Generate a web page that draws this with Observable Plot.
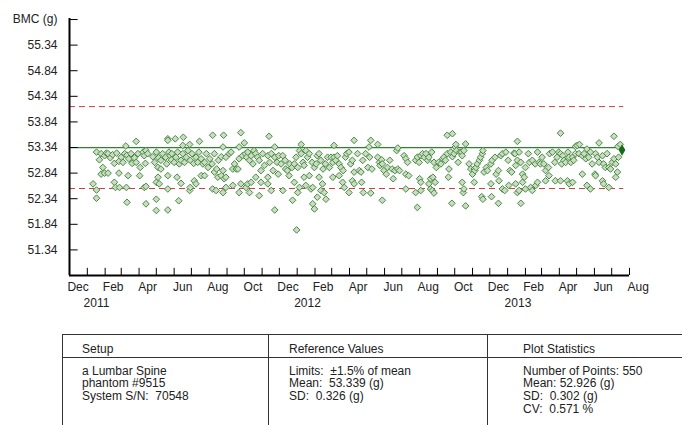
<!DOCTYPE html>
<html><head><meta charset="utf-8">
<script src="https://cdn.jsdelivr.net/npm/d3@7"></script>
<script src="https://cdn.jsdelivr.net/npm/@observablehq/plot@0.6"></script>
<style>
body{margin:0;background:#fff;font-family:"Liberation Sans",Arial,sans-serif;}
#wrap{position:relative;width:682px;height:425px;overflow:hidden;background:#fff;}
#chart{position:absolute;left:0;top:0;}
.hl{position:absolute;height:0;border-top:1px solid #333;}
.vl{position:absolute;width:0;border-left:1px solid #333;}
.tx{position:absolute;font-size:12px;color:#222;white-space:pre;line-height:12.7px;}
</style></head><body>
<div id="wrap"><div id="chart"></div></div>
<script>
// ---- data ----
const scans = [
["2011-01-11",52.63],["2011-01-17",53.25],["2011-01-17",52.51],["2011-01-17",52.35],["2011-01-22",53.10],
["2011-01-25",53.22],["2011-01-25",52.82],["2011-01-28",52.95],["2011-01-31",53.18],["2011-01-31",52.84],
["2011-02-03",53.23],["2011-02-06",53.22],["2011-02-06",52.84],["2011-02-10",53.14],["2011-02-14",53.20],
["2011-02-17",53.03],["2011-02-17",52.66],["2011-02-19",52.56],["2011-02-21",53.23],["2011-02-25",53.07],
["2011-02-25",52.84],["2011-02-26",52.56],["2011-03-01",53.15],["2011-03-04",53.05],["2011-03-07",53.22],
["2011-03-09",53.37],["2011-03-10",52.56],["2011-03-11",53.19],["2011-03-11",52.27],["2011-03-13",52.79],
["2011-03-14",53.12],["2011-03-18",53.22],["2011-03-20",53.03],["2011-03-24",53.14],["2011-03-27",53.05],
["2011-03-27",53.46],["2011-03-30",53.22],["2011-04-02",52.79],["2011-04-03",52.95],["2011-04-08",53.25],
["2011-04-10",53.18],["2011-04-10",52.56],["2011-04-12",53.03],["2011-04-13",53.28],["2011-04-13",52.58],
["2011-04-13",52.24],["2011-04-16",53.22],["2011-04-25",53.16],["2011-04-28",53.05],["2011-05-01",53.25],
["2011-05-01",52.66],["2011-05-01",52.33],["2011-05-01",52.11],["2011-05-04",52.95],["2011-05-04",52.76],
["2011-05-05",53.14],["2011-05-06",52.63],["2011-05-09",53.09],["2011-05-09",52.92],["2011-05-12",53.22],
["2011-05-17",53.15],["2011-05-19",53.02],["2011-05-21",53.51],["2011-05-21",53.48],["2011-05-21",52.53],
["2011-05-21",52.79],["2011-05-21",52.12],["2011-05-23",53.25],["2011-05-25",53.18],["2011-05-27",53.10],
["2011-05-28",53.22],["2011-06-01",53.05],["2011-06-03",53.51],["2011-06-04",53.15],["2011-06-06",52.76],
["2011-06-07",53.25],["2011-06-09",52.30],["2011-06-10",53.02],["2011-06-13",53.09],["2011-06-13",52.64],
["2011-06-16",53.22],["2011-06-16",53.38],["2011-06-17",53.54],["2011-06-19",53.05],["2011-06-22",53.15],
["2011-06-25",53.28],["2011-06-28",53.40],["2011-06-28",52.50],["2011-06-29",53.09],["2011-06-29",52.56],
["2011-07-02",53.22],["2011-07-05",53.03],["2011-07-06",52.69],["2011-07-09",53.15],["2011-07-09",52.63],
["2011-07-12",53.05],["2011-07-14",53.25],["2011-07-15",53.46],["2011-07-18",53.12],["2011-07-18",52.79],
["2011-07-21",53.02],["2011-07-24",53.05],["2011-07-24",52.79],["2011-07-27",53.22],["2011-07-30",52.95],
["2011-08-02",53.12],["2011-08-06",53.02],["2011-08-07",53.58],["2011-08-07",52.53],["2011-08-10",53.22],
["2011-08-10",52.86],["2011-08-13",52.50],["2011-08-14",52.92],["2011-08-16",52.76],["2011-08-17",53.09],
["2011-08-22",53.16],["2011-08-22",52.79],["2011-08-25",52.89],["2011-08-25",53.35],["2011-08-25",52.46],
["2011-08-26",53.58],["2011-08-27",52.73],["2011-08-30",53.15],["2011-08-30",52.76],["2011-08-30",52.56],
["2011-09-05",53.22],["2011-09-08",53.25],["2011-09-11",52.92],["2011-09-11",52.60],["2011-09-14",53.02],
["2011-09-17",52.92],["2011-09-20",52.92],["2011-09-22",53.12],["2011-09-22",53.35],["2011-09-22",52.46],
["2011-09-25",53.63],["2011-09-25",52.63],["2011-09-28",53.18],["2011-10-01",53.43],["2011-10-03",53.22],
["2011-10-04",52.56],["2011-10-05",53.15],["2011-10-07",52.63],["2011-10-07",53.25],["2011-10-10",53.09],
["2011-10-10",52.46],["2011-10-13",53.18],["2011-10-13",52.66],["2011-10-16",53.02],["2011-10-18",53.28],
["2011-10-21",53.22],["2011-10-21",52.76],["2011-10-24",53.15],["2011-10-27",53.09],["2011-10-27",52.40],
["2011-10-30",52.89],["2011-10-30",52.66],["2011-11-02",53.22],["2011-11-05",52.99],["2011-11-11",53.18],
["2011-11-11",52.63],["2011-11-11",52.76],["2011-11-13",53.56],["2011-11-14",53.05],["2011-11-17",53.22],
["2011-11-17",52.50],["2011-11-20",52.89],["2011-11-23",53.15],["2011-11-23",53.35],["2011-11-23",52.12],
["2011-11-27",53.05],["2011-11-29",52.82],["2011-11-30",53.18],["2011-12-04",53.02],["2011-12-07",53.18],
["2011-12-07",52.50],["2011-12-11",53.09],["2011-12-12",52.92],["2011-12-15",52.89],["2011-12-18",52.79],
["2011-12-19",53.02],["2011-12-23",52.95],["2011-12-24",52.31],["2011-12-27",53.02],["2011-12-27",52.66],
["2011-12-30",53.15],["2011-12-31",51.73],["2012-01-02",52.95],["2012-01-02",52.46],["2012-01-05",53.28],
["2012-01-05",52.56],["2012-01-08",53.22],["2012-01-08",53.40],["2012-01-11",53.05],["2012-01-13",52.99],
["2012-01-13",52.76],["2012-01-16",53.28],["2012-01-16",52.60],["2012-01-19",53.15],["2012-01-22",53.22],
["2012-01-22",52.79],["2012-01-25",52.53],["2012-01-27",53.05],["2012-01-28",52.56],["2012-01-28",52.24],
["2012-01-31",52.95],["2012-01-31",52.14],["2012-02-03",53.02],["2012-02-05",53.18],["2012-02-05",52.37],
["2012-02-08",53.22],["2012-02-08",52.76],["2012-02-11",53.09],["2012-02-11",52.50],["2012-02-14",52.63],
["2012-02-15",52.92],["2012-02-17",52.46],["2012-02-19",53.02],["2012-02-20",52.33],["2012-02-23",53.15],
["2012-02-26",52.95],["2012-02-29",53.15],["2012-03-03",53.05],["2012-03-03",52.76],["2012-03-05",53.15],
["2012-03-05",53.38],["2012-03-08",53.09],["2012-03-11",53.18],["2012-03-14",53.02],["2012-03-14",52.79],
["2012-03-17",52.95],["2012-03-20",52.66],["2012-03-21",52.89],["2012-03-23",52.56],["2012-03-25",53.15],
["2012-03-27",53.22],["2012-03-31",53.25],["2012-03-31",52.46],["2012-04-03",53.02],["2012-04-06",53.09],
["2012-04-06",52.69],["2012-04-09",52.86],["2012-04-09",53.48],["2012-04-09",52.63],["2012-04-15",53.22],
["2012-04-18",52.89],["2012-04-21",52.86],["2012-04-22",52.66],["2012-04-24",53.09],["2012-04-25",52.46],
["2012-04-29",53.22],["2012-05-03",52.95],["2012-05-05",53.35],["2012-05-06",53.15],["2012-05-08",53.48],
["2012-05-08",52.45],["2012-05-10",52.92],["2012-05-20",53.15],["2012-05-20",53.40],["2012-05-23",53.05],
["2012-05-24",52.99],["2012-05-27",53.10],["2012-05-28",53.02],["2012-05-28",52.31],["2012-05-31",52.89],
["2012-06-04",52.82],["2012-06-06",52.95],["2012-06-10",53.09],["2012-06-14",52.92],["2012-06-16",52.73],
["2012-06-19",52.89],["2012-06-22",53.28],["2012-06-24",52.92],["2012-06-24",53.33],["2012-06-27",52.89],
["2012-07-05",53.18],["2012-07-08",53.12],["2012-07-08",52.82],["2012-07-08",52.53],["2012-07-11",53.05],
["2012-07-13",52.79],["2012-07-25",53.09],["2012-07-25",52.46],["2012-07-28",53.15],["2012-07-28",52.17],
["2012-07-31",53.05],["2012-08-01",52.73],["2012-08-03",53.18],["2012-08-03",52.66],["2012-08-03",52.50],
["2012-08-06",53.22],["2012-08-09",53.15],["2012-08-12",53.22],["2012-08-15",53.09],["2012-08-17",53.15],
["2012-08-17",52.63],["2012-08-20",52.73],["2012-08-20",52.53],["2012-08-22",53.25],["2012-08-23",52.50],
["2012-08-24",52.76],["2012-08-26",53.05],["2012-08-26",52.45],["2012-08-28",52.66],["2012-08-30",52.95],
["2012-09-03",53.05],["2012-09-07",53.02],["2012-09-10",53.12],["2012-09-12",53.15],["2012-09-15",53.09],
["2012-09-18",53.22],["2012-09-18",53.58],["2012-09-20",52.76],["2012-09-21",52.92],["2012-09-24",53.25],
["2012-09-26",52.25],["2012-09-27",53.16],["2012-09-27",53.61],["2012-09-30",53.22],["2012-10-02",53.35],
["2012-10-03",53.40],["2012-10-04",53.28],["2012-10-07",53.05],["2012-10-10",53.25],["2012-10-13",53.25],
["2012-10-14",53.18],["2012-10-14",52.66],["2012-10-16",52.46],["2012-10-17",53.28],["2012-10-17",52.53],
["2012-10-20",53.41],["2012-10-20",52.20],["2012-10-26",53.02],["2012-10-29",52.92],["2012-11-01",52.82],
["2012-11-04",52.92],["2012-11-04",52.66],["2012-11-05",52.89],["2012-11-07",52.95],["2012-11-09",53.02],
["2012-11-13",53.09],["2012-11-15",53.15],["2012-11-17",52.38],["2012-11-18",53.22],["2012-11-19",53.28],
["2012-11-19",52.33],["2012-11-21",52.86],["2012-11-25",52.95],["2012-11-27",52.89],["2012-12-03",53.02],
["2012-12-03",52.63],["2012-12-04",52.38],["2012-12-05",53.09],["2012-12-10",53.15],["2012-12-12",52.82],
["2012-12-16",52.89],["2012-12-16",52.25],["2012-12-17",52.69],["2012-12-20",53.18],["2012-12-23",53.22],
["2012-12-23",52.53],["2012-12-27",52.50],["2012-12-29",53.25],["2013-01-02",53.09],["2013-01-03",52.60],
["2013-01-05",52.89],["2013-01-08",52.86],["2013-01-12",53.23],["2013-01-14",53.22],["2013-01-15",52.99],
["2013-01-15",52.63],["2013-01-18",53.09],["2013-01-18",53.46],["2013-01-18",52.46],["2013-01-21",53.25],
["2013-01-21",52.50],["2013-01-24",53.05],["2013-01-24",52.25],["2013-01-27",52.82],["2013-01-27",52.66],
["2013-01-30",52.76],["2013-02-01",52.95],["2013-02-01",52.53],["2013-02-06",53.22],["2013-02-08",53.05],
["2013-02-10",52.56],["2013-02-13",53.09],["2013-02-13",52.50],["2013-02-18",53.02],["2013-02-19",52.60],
["2013-02-22",53.25],["2013-02-22",52.66],["2013-02-25",53.05],["2013-02-27",53.02],["2013-03-02",53.15],
["2013-03-05",53.02],["2013-03-08",52.89],["2013-03-08",52.69],["2013-03-13",52.95],["2013-03-14",52.79],
["2013-03-15",53.22],["2013-03-20",53.25],["2013-03-24",53.05],["2013-03-25",52.69],["2013-03-28",53.15],
["2013-03-31",53.25],["2013-04-03",53.22],["2013-04-03",53.62],["2013-04-03",52.69],["2013-04-05",53.02],
["2013-04-07",53.18],["2013-04-09",53.09],["2013-04-12",53.05],["2013-04-15",52.69],["2013-04-16",53.25],
["2013-04-18",53.15],["2013-04-18",52.63],["2013-04-21",53.05],["2013-04-24",53.15],["2013-04-24",52.66],
["2013-04-26",53.09],["2013-04-29",53.22],["2013-04-29",53.36],["2013-05-02",53.38],["2013-05-05",53.22],
["2013-05-06",53.40],["2013-05-11",53.18],["2013-05-11",52.82],["2013-05-14",53.22],["2013-05-17",53.12],
["2013-05-19",53.31],["2013-05-19",52.60],["2013-05-22",53.15],["2013-05-25",53.25],["2013-05-25",52.53],
["2013-05-28",53.02],["2013-06-02",52.82],["2013-06-03",53.22],["2013-06-03",52.79],["2013-06-06",53.15],
["2013-06-09",53.05],["2013-06-09",53.43],["2013-06-15",53.18],["2013-06-15",52.69],["2013-06-17",53.02],
["2013-06-17",52.63],["2013-06-20",52.95],["2013-06-23",53.22],["2013-06-26",52.95],["2013-06-26",52.56],
["2013-06-29",52.92],["2013-07-02",53.05],["2013-07-05",53.12],["2013-07-05",53.56],["2013-07-08",53.02],
["2013-07-08",52.76],["2013-07-11",52.86],["2013-07-12",53.36],["2013-07-13",53.15],["2013-07-16",53.40]
];
const lastScan = ["2013-07-19", 53.29];

const refMean = 53.339;          // reference mean (g)
const limitPercent = 1.5;        // ±1.5 % of mean

const yTickValues = [51.34, 51.84, 52.34, 52.84, 53.34, 53.84, 54.34, 54.84, 55.34, 55.84];
const yTickLabels = ["51.34","51.84","52.34","52.84","53.34","53.84","54.34","54.84","55.34","BMC (g)"];

const monthLabelDates = ["2010-12-16","2011-02-15","2011-04-16","2011-06-16","2011-08-16","2011-10-16",
  "2011-12-16","2012-02-15","2012-04-16","2012-06-16","2012-08-16","2012-10-16","2012-12-16",
  "2013-02-15","2013-04-16","2013-06-16","2013-08-16"];
const monthLabels = ["Dec","Feb","Apr","Jun","Aug","Oct","Dec","Feb","Apr","Jun","Aug","Oct","Dec","Feb","Apr","Jun","Aug"];
const yearLabelDates = ["2011-01-17","2012-01-19","2013-01-19"];
const yearLabels = ["2011","2012","2013"];

const tableHeaders = ["Setup", "Reference Values", "Plot Statistics"];
const setupLines = ["a Lumbar Spine", "phantom #9515", "System S/N:  70548"];
const referenceLines = ["Limits:  \u00b11.5% of mean", "Mean:  53.339 (g)", "SD:  0.326 (g)"];
const statisticsLines = ["Number of Points: 550", "Mean: 52.926 (g)", "SD:  0.302 (g)", "CV:  0.571 %"];

// ---- chart ----
const parse = d3.utcParse("%Y-%m-%d");
const data = scans.map(([d, v]) => ({date: parse(d), bmc: v}));
const last = {date: parse(lastScan[0]), bmc: lastScan[1]};
const xStart = parse("2010-12-01"), xEnd = parse("2013-08-01");
const yMin = 50.84, yMax = 55.86;
const upper = refMean * (1 + limitPercent / 100);
const lower = refMean * (1 - limitPercent / 100);
const monthTicks = d3.utcMonth.range(parse("2011-01-01"), parse("2013-08-02"));

const chart = Plot.plot({
  width: 682, height: 320,
  marginLeft: 69, marginRight: 53, marginTop: 18, marginBottom: 45,
  x: {type: "utc", domain: [xStart, xEnd], axis: null},
  y: {domain: [yMin, yMax], axis: null},
  style: {fontFamily: "'Liberation Sans', Arial, sans-serif", fontSize: "12px", color: "#222", background: "white", overflow: "visible"},
  marks: [
    Plot.ruleY([lower, upper], {x1: xStart, x2: d3.utcDay.offset(last.date, 3), stroke: "#c93f3f", strokeWidth: 1, strokeDasharray: "6,4"}),
    Plot.ruleY([refMean], {x1: xStart, x2: last.date, stroke: "#2c852c", strokeWidth: 1.2}),
    Plot.dot(data, {x: "date", y: "bmc", symbol: "diamond2", r: 3, stroke: "#3f8f3f", fill: "#d0d9c4", strokeWidth: 1}),
    Plot.dot([last], {x: "date", y: "bmc", symbol: "diamond", r: 2.6, fill: "#166b16", stroke: "#166b16"}),
    Plot.ruleX([xStart], {y1: yMin, y2: yMax, stroke: "#000", strokeWidth: 2}),
    Plot.ruleY([yMin], {x1: xStart, x2: xEnd, stroke: "#000", strokeWidth: 2}),
    Plot.ruleY(yTickValues, {x1: xStart, x2: d3.utcDay.offset(xStart, 15), stroke: "#000", strokeWidth: 1}),
    Plot.ruleX(monthTicks, {y1: yMin, y2: yMin + 0.14, stroke: "#000", strokeWidth: 1}),
    Plot.text(yTickValues, {x: xStart, y: d => d, dx: -12, textAnchor: "end", text: (d, i) => yTickLabels[i], fill: "#222"}),
    Plot.text(monthLabelDates, {x: d => parse(d), y: yMin, dy: 12, text: (d, i) => monthLabels[i], fill: "#222"}),
    Plot.text(yearLabelDates, {x: d => parse(d), y: yMin, dy: 28, text: (d, i) => yearLabels[i], fill: "#222"})
  ]
});
document.getElementById("chart").appendChild(chart);

// ---- statistics table (HTML) ----
const wrap = document.getElementById("wrap");
function add(cls, css, text) {
  const el = document.createElement("div");
  el.className = cls;
  Object.assign(el.style, css);
  if (text != null) el.textContent = text;
  wrap.appendChild(el);
}
add("hl", {left: "62px", top: "334px", width: "620px"});
add("hl", {left: "62px", top: "357px", width: "620px"});
add("vl", {left: "62px", top: "334px", height: "91px"});
add("vl", {left: "268px", top: "334px", height: "91px"});
add("vl", {left: "487px", top: "334px", height: "91px"});
const colX = [82, 289, 523];
tableHeaders.forEach((h, i) => add("tx", {left: colX[i] + "px", top: "343px"}, h));
[setupLines, referenceLines, statisticsLines].forEach((lines, i) =>
  add("tx", {left: colX[i] + "px", top: "364.5px"}, lines.join("\n")));
</script>
</body></html>
